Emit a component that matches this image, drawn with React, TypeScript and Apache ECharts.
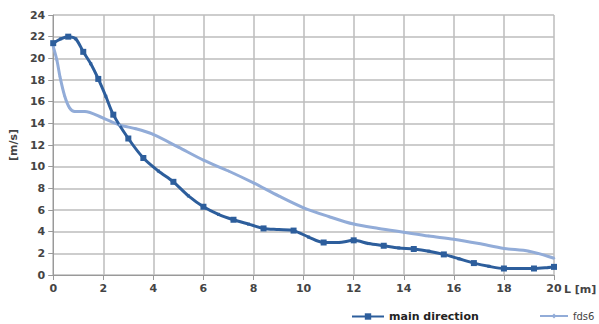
import React, { useEffect, useRef } from "react";
import * as echarts from "echarts";

const mainX = [0, 0.3, 0.6, 0.9, 1.2, 1.5, 1.8, 2.1, 2.4, 3.0, 3.6, 4.2, 4.8, 5.4, 6.0, 6.6, 7.2, 7.8, 8.4, 9.0, 9.6, 10.2, 10.8, 11.4, 12.0, 12.6, 13.2, 13.8, 14.4, 15.0, 15.6, 16.2, 16.8, 17.4, 18.0, 18.6, 19.2, 19.8, 20];
const mainY = [21.4, 21.8, 22.0, 21.8, 20.6, 19.5, 18.1, 16.5, 14.8, 12.6, 10.8, 9.6, 8.6, 7.3, 6.3, 5.6, 5.1, 4.7, 4.3, 4.2, 4.1, 3.5, 3.0, 3.0, 3.2, 2.9, 2.7, 2.5, 2.4, 2.2, 1.9, 1.5, 1.1, 0.8, 0.6, 0.6, 0.6, 0.7, 0.75];
const mainBig = [0, 2, 4, 6, 8, 9, 10, 12, 14, 16, 18, 20, 22, 24, 26, 28, 30, 32, 34, 36, 38];

const fdsX = [0, 0.15, 0.27, 0.46, 0.66, 0.86, 1.26, 1.98, 2.65, 3.3, 3.97, 5.0, 6.0, 7.0, 8.0, 9.0, 10.0, 11.0, 12.0, 13.0, 14.0, 15.0, 16.0, 17.0, 18.0, 19.0, 20];
const fdsY = [21.1, 19.8, 18.3, 16.5, 15.4, 15.1, 15.1, 14.5, 13.85, 13.5, 13.0, 11.8, 10.6, 9.6, 8.5, 7.3, 6.2, 5.4, 4.7, 4.3, 3.95, 3.6, 3.3, 2.9, 2.45, 2.2, 1.55];

const xTicks = [0, 2, 4, 6, 8, 10, 12, 14, 16, 18, 20];
const yTicks = [0, 2, 4, 6, 8, 10, 12, 14, 16, 18, 20, 22, 24];

const MAIN_COLOR = "#2d5e9c";
const FDS_COLOR = "#92acd8";

export default function App() {
  const ref = useRef<HTMLDivElement>(null);
  useEffect(() => {
    if (!ref.current) return;
    const chart = echarts.init(ref.current, null, { renderer: "svg" });
    const labelStyle = { color: "#444", fontFamily: "DejaVu Sans", fontSize: 11, fontWeight: "bold" as const };
    chart.setOption({
      animation: false,
      backgroundColor: "#fff",
      grid: { left: 50, right: 45, top: 15, bottom: 49 },
      xAxis: {
        type: "value",
        min: xTicks[0],
        max: xTicks[xTicks.length - 1],
        interval: 2,
        axisLine: { show: true, lineStyle: { color: "#999", width: 1 } },
        axisTick: { show: true, length: 5, lineStyle: { color: "#999" } },
        axisLabel: { ...labelStyle, margin: 8 },
        splitLine: { show: true, lineStyle: { color: "#bdbdbd", width: 1.5 } },
      },
      yAxis: {
        type: "value",
        min: yTicks[0],
        max: yTicks[yTicks.length - 1],
        interval: 2,
        name: "[m/s]",
        nameLocation: "middle",
        nameGap: 30,
        nameRotate: 90,
        nameTextStyle: { ...labelStyle, fontSize: 11 },
        axisLine: { show: true, lineStyle: { color: "#999", width: 1 } },
        axisTick: { show: true, length: 5, lineStyle: { color: "#999" } },
        axisLabel: { ...labelStyle, margin: 8 },
        splitLine: { show: true, lineStyle: { color: "#bdbdbd", width: 1.5 } },
      },
      legend: [
        {
          data: ["main direction"],
          left: 346,
          top: 306,
          itemWidth: 32,
          itemHeight: 8,
          textStyle: { ...labelStyle, color: "#222", fontSize: 11 },
        },
        {
          data: ["fds6"],
          left: 534,
          top: 306,
          itemWidth: 28,
          itemHeight: 6,
          textStyle: { color: "#444", fontFamily: "DejaVu Sans", fontSize: 10 },
        },
      ],
      graphic: [
        {
          type: "text",
          left: 564,
          top: 284,
          style: { text: "L [m]", fill: "#444", font: "bold 11px DejaVu Sans" },
        },
      ],
      series: [
        {
          name: "fds6",
          type: "line",
          data: fdsX.map((x, i) => [x, fdsY[i]]),
          smooth: 0.3,
          symbol: "diamond",
          symbolSize: 3,
          showSymbol: true,
          lineStyle: { color: FDS_COLOR, width: 3 },
          itemStyle: { color: FDS_COLOR },
        },
        {
          name: "main direction",
          type: "line",
          data: mainX.map((x, i) => ({
            value: [x, mainY[i]],
            symbolSize: mainBig.includes(i) ? 6 : 3,
          })),
          smooth: 0.3,
          symbol: "rect",
          symbolSize: 6,
          lineStyle: { color: MAIN_COLOR, width: 3 },
          itemStyle: { color: MAIN_COLOR },
        },
      ],
    });
    return () => chart.dispose();
  }, []);
  return <div ref={ref} style={{ width: 599, height: 324, position: "absolute", left: 0, top: 0 }} />;
}
